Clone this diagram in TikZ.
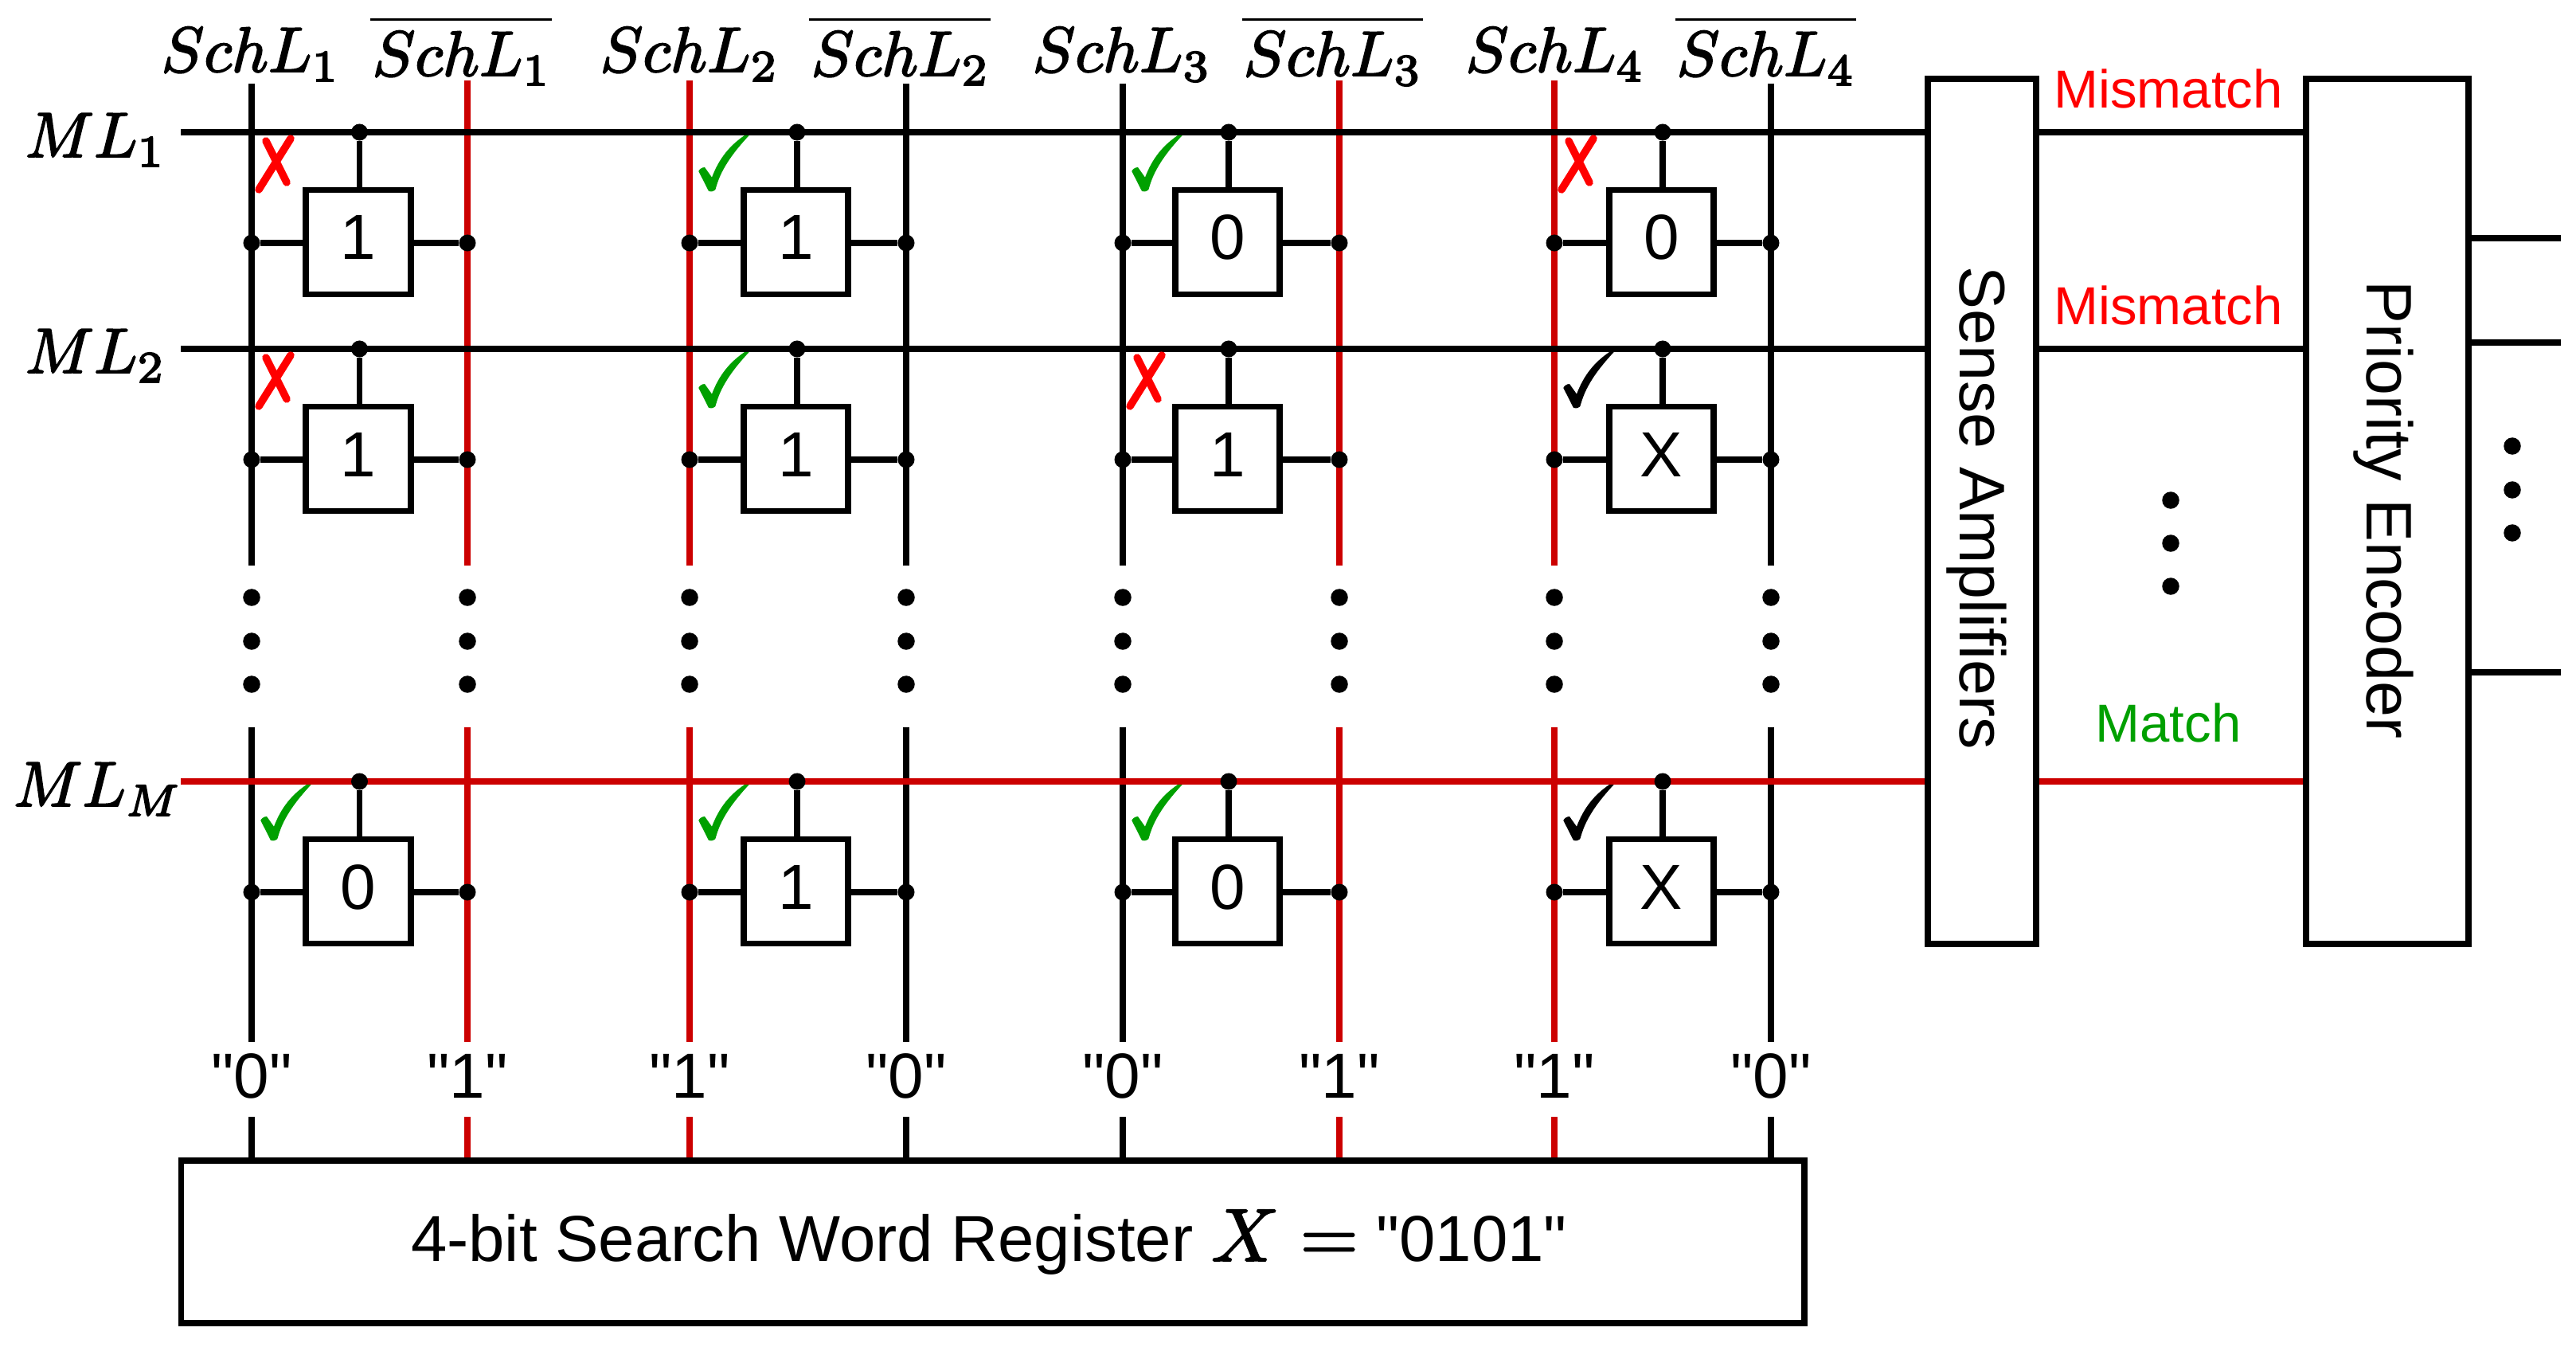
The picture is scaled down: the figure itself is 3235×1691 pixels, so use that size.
\documentclass[tikz,border=0pt]{standalone}
\usepackage{fontspec}
\setmainfont[Ligatures=TeXOff]{Liberation Sans}
\DeclareFontShape{OML}{cmm}{m}{it}{<-18> cmmi7 <18-> cmmi10}{\skewchar\font=127}
\DeclareFontShape{OT1}{cmr}{m}{n}{<-18> cmr7 <18-> cmr10}{}
\DeclareFontShape{OMS}{cmsy}{m}{n}{<-18> cmsy7 <18-> cmsy10}{\skewchar\font=48}
\DeclareFontShape{OMX}{cmex}{m}{n}{<-> cmex10}{}
\definecolor{wred}{HTML}{CC0000}
\definecolor{mred}{HTML}{FF0000}
\definecolor{mgreen}{HTML}{00A000}
\tikzset{
  wire/.style={line width=0.078cm},
  redwire/.style={line width=0.072cm},
  cellbox/.style={draw,fill=white,line width=0.078cm,minimum width=1.315cm,minimum height=1.31cm,inner sep=0pt},
  bigbox/.style={draw,fill=white,line width=0.078cm,inner sep=0pt},
  lab/.style={inner sep=0pt,anchor=base,font=\fontsize{22.76}{27}\selectfont},
  vlab/.style={inner sep=0pt,anchor=base,rotate=-90,font=\fontsize{23}{27}\selectfont},
  wlab/.style={inner sep=0pt,anchor=base,font=\fontsize{23.2}{27}\selectfont},
  sig/.style={inner sep=0pt,anchor=base,font=\fontsize{19.1}{23}\selectfont},
  jdot/.style={circle,fill=black,inner sep=0pt,minimum size=0.21cm},
  vdot/.style={circle,fill=black,inner sep=0pt,minimum size=0.215cm},
  ckmark/.pic={\fill[#1] (74.7,4) -- (69,4) .. controls (50,17) and (37,33) .. (28,56.7) -- (19,44)
     .. controls (15,44) and (12,47) .. (11.3,49) -- (24,74) .. controls (28,75) and (31,74) .. (32.3,72.3)
     .. controls (36,60) and (41,40) .. (74.7,4) -- cycle;},
  crossmark/.pic={\draw[mred,line width=0.095cm,line cap=round] (49,8) -- (9,72) (18,11) -- (44,63);}
}
\newcommand{\hvy}[1]{\special{pdf:code 2 Tr 0.55 w}#1\special{pdf:code 0 Tr}}
\newcommand{\bl}{\rule{0pt}{0.74em}\mkern0.5mu}
\begin{document}
\begin{tikzpicture}[x=0.01cm,y=-0.01cm]
\fill[white] (0,0) rectangle (3235,1691);
\useasboundingbox (0,0) rectangle (3235,1691);

% right-hand blocks
\node[bigbox,minimum width=1.36cm,minimum height=10.86cm] (sa) at (2489,642) {};
\node[bigbox,minimum width=2.04cm,minimum height=10.86cm] (pe) at (2998,642) {};
\node[bigbox,minimum width=20.37cm,minimum height=2.04cm] (reg) at (1246.5,1559) {};

% vertical search lines
\foreach \i/\x/\c/\t/\w in {1/316/black/105/wire,2/587/wred/101/redwire,3/866/wred/101/redwire,4/1138/black/105/wire,5/1410/black/105/wire,6/1682/wred/101/redwire,7/1952/wred/101/redwire,8/2224/black/105/wire}{
  \coordinate (st\i) at (\x,\t);
  \coordinate (sm\i) at (\x,710);
  \coordinate (sn\i) at (\x,913);
  \coordinate (sb\i) at (\x,1308);
  \coordinate (sr\i) at (\x,1402);
  \draw[\w,\c] (st\i) -- (sm\i);
  \draw[\w,\c] (sn\i) -- (sb\i);
  \draw[\w,\c] (sr\i) -- (sr\i |- reg.north);
  \node[vdot] (da\i) at (\x,750) {};
  \node[vdot] (db\i) at (\x,805) {};
  \node[vdot] (dc\i) at (\x,859) {};
}

% match lines
\foreach \r/\y/\c/\w in {1/166/black/wire,2/438/black/wire,3/981/wred/redwire}{
  \coordinate (ml\r) at (227,\y);
  \draw[\w,\c] (ml\r) -- (ml\r -| sa.west);
  \draw[\w,\c] (ml\r -| sa.east) -- (ml\r -| pe.west);
}

% cells
\foreach \r/\y/\va/\vb/\vc/\vd in {1/166/1/1/0/0,2/438/1/1/1/X,3/981/0/1/0/X}{
  \foreach \k/\cx/\xl/\xr/\v in {1/450/316/587/\va,2/999.5/866/1138/\vb,3/1541.5/1410/1682/\vc,4/2086.5/1952/2224/\vd}{
    \pgfmathsetmacro{\yc}{\y+138}
    \pgfmathsetmacro{\yj}{\y+139}
    \pgfmathsetmacro{\xt}{\cx+1.5}
    \pgfmathsetmacro{\yb}{\y+160}
    \node[cellbox] (cell\r\k) at (\cx,\yc) {};
    \node[lab] (val\r\k) at (\cx,\yb) {\v};
    \node[jdot] (top\r\k) at (\xt,\y) {};
    \node[jdot] (lj\r\k) at (\xl,\yj) {};
    \node[jdot] (rj\r\k) at (\xr,\yj) {};
    \draw[wire] (top\r\k) -- (top\r\k |- cell\r\k.north);
    \draw[wire] (lj\r\k) -- (lj\r\k -| cell\r\k.west);
    \draw[wire] (rj\r\k) -- (rj\r\k -| cell\r\k.east);
  }
}

% match marks
\foreach \x/\y in {316/166,1952/166,316/438,1410/438}{ \pic at (\x,\y) {crossmark}; }
\foreach \x/\y in {866/166,1410/166,866/438,316/981,866/981,1410/981}{ \pic at (\x,\y) {ckmark=mgreen}; }
\foreach \x/\y in {1952/438,1952/981}{ \pic at (\x,\y) {ckmark=black}; }

% outputs of the priority encoder
\foreach \i/\y in {1/299,2/430,3/844}{
  \coordinate (oe\i) at (3216,\y);
  \draw[wire] (oe\i -| pe.east) -- (oe\i);
}
\node[vdot] (ra) at (3155,560) {};
\node[vdot] (rb) at (3155,615) {};
\node[vdot] (rc) at (3155,669) {};
\node[vdot] (ma) at (2726,628) {};
\node[vdot] (mb) at (2726,682) {};
\node[vdot] (mc) at (2726,736) {};

% labels
\foreach \i/\x/\s in {1/314/1,3/865/2,5/1408/3,7/1952/4}{
  \node[lab] (sl\i) at (\x,90) {\hvy{$SchL_{\s}$}};
}
\foreach \i/\x/\s in {2/579/1,4/1130/2,6/1673/3,8/2217/4}{
  \node[lab] (sl\i) at (\x,95) {\hvy{$\overline{\bl SchL_{\s}\mkern0.5mu}$}};
}
\node[lab] (lml1) at (119,197) {\hvy{$ML_1$}};
\node[lab] (lml2) at (119,468) {\hvy{$ML_2$}};
\node[lab] (lml3) at (122,1012) {\hvy{$ML_M$}};
\foreach \i/\x/\t in {1/316/0,2/587/1,3/866/1,4/1138/0,5/1410/0,6/1682/1,7/1952/1,8/2224/0}{
  \node[lab] (bit\i) at (\x,1378) {"\t"};
}
\node[sig,text=mred] (mm1) at (2723,136) {Mismatch};
\node[sig,text=mred] (mm2) at (2723,407) {Mismatch};
\node[sig,text=mgreen] (mm3) at (2723,931) {Match};
\node[vlab] (tsa) at (2461,638) {Sense Amplifiers};
\node[vlab] (tpe) at (2972,640) {Priority Encoder};
\node[wlab] (treg) at (1242,1583) {4-bit Search Word Register {\fontsize{26.75}{30}\selectfont\hvy{$X=$}} "0101"};
\end{tikzpicture}
\end{document}
